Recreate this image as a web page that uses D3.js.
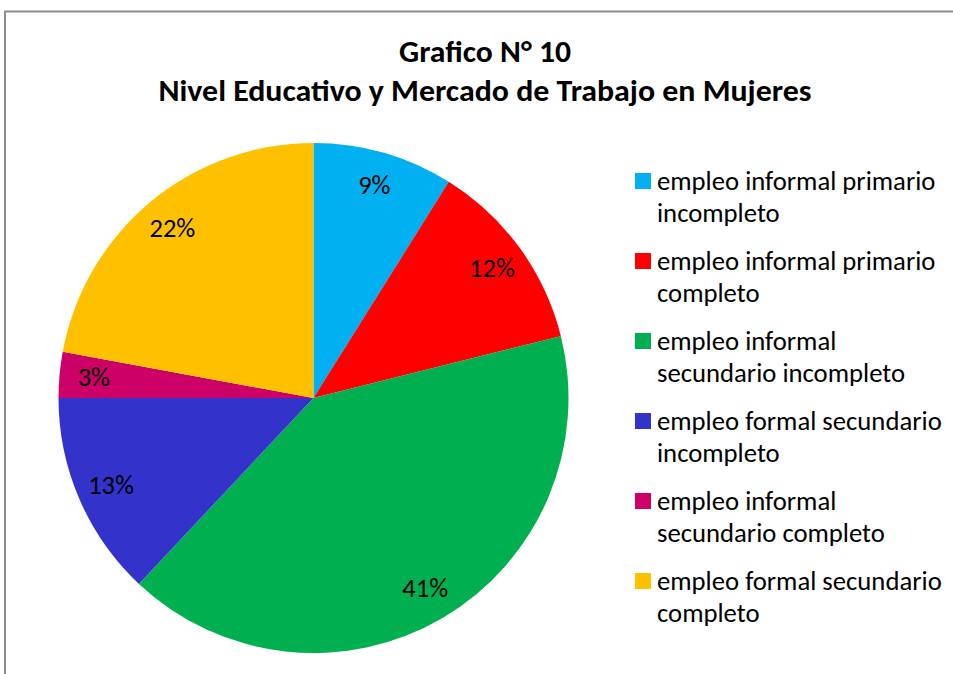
<!DOCTYPE html>
<html>
<head>
<meta charset="utf-8">
<script src="https://cdn.jsdelivr.net/npm/d3@7"></script>
<style>
  body { margin: 0; background: #fff; }
  svg text { font-family: Carlito, "Open Sans", Lato, sans-serif; }
</style>
</head>
<body>
<div id="chart"></div>
<script>
// data
var categories = [
    ['empleo informal primario', 'incompleto']
  , ['empleo informal primario', 'completo']
  , ['empleo informal', 'secundario incompleto']
  , ['empleo formal secundario', 'incompleto']
  , ['empleo informal', 'secundario completo']
  , ['empleo formal secundario', 'completo']
];
var values = [8.9, 12.2, 40.9, 13.0, 2.9, 22.1];
var labels = ['9%', '12%', '41%', '13%', '3%', '22%'];
var colors = ['#00B0F0', '#FF0000', '#00B050', '#3333CC', '#CC0066', '#FFC000'];
var titleLines = ['Grafico N° 10', 'Nivel Educativo y Mercado de Trabajo en Mujeres'];

var width = 953, height = 674;

var svg = d3.select('#chart').append('svg')
    .attr('width', width)
    .attr('height', height);

// chart frame (goes off the right and bottom edge)
svg.append('rect')
    .attr('x', 5)
    .attr('y', 11.5)
    .attr('width', 1000)
    .attr('height', 1000)
    .attr('fill', 'none')
    .attr('stroke', '#8c8c8c')
    .attr('stroke-width', 2);

// title
svg.selectAll('text.title')
    .data(titleLines)
  .enter().append('text')
    .attr('class', 'title')
    .attr('x', 485)
    .attr('y', function(d, i) { return 62 + i * 39; })
    .attr('text-anchor', 'middle')
    .attr('font-size', 31)
    .attr('font-weight', 'bold')
    .attr('fill', '#000')
    .attr('textLength', function(d, i) { return i === 0 ? 172 : 653; })
    .attr('lengthAdjust', 'spacingAndGlyphs')
    .text(function(d) { return d; });

// pie
var cx = 313.5, cy = 398, radius = 255;

var pie = d3.pie().sort(null).value(function(d) { return d; });
var arcs = pie(values);

var arc = d3.arc().innerRadius(0).outerRadius(radius);
var labelArc = d3.arc().innerRadius(radius * 0.865).outerRadius(radius * 0.865);

var g = svg.append('g')
    .attr('transform', 'translate(' + cx + ',' + cy + ')');

g.selectAll('path')
    .data(arcs)
  .enter().append('path')
    .attr('d', arc)
    .attr('fill', function(d, i) { return colors[i]; });

g.selectAll('text')
    .data(arcs)
  .enter().append('text')
    .attr('transform', function(d) { return 'translate(' + labelArc.centroid(d) + ')'; })
    .attr('dy', '0.32em')
    .attr('text-anchor', 'middle')
    .attr('font-size', 26.5)
    .attr('fill', '#000')
    .text(function(d, i) { return labels[i]; });

// legend
var legend = svg.append('g')
    .attr('transform', 'translate(635, 173)');

var item = legend.selectAll('g')
    .data(categories)
  .enter().append('g')
    .attr('transform', function(d, i) { return 'translate(0,' + i * 80 + ')'; });

item.append('rect')
    .attr('width', 16)
    .attr('height', 16)
    .attr('fill', function(d, i) { return colors[i]; });

item.append('text')
    .attr('x', 22)
    .attr('y', 17)
    .attr('font-size', 26.7)
    .attr('fill', '#000')
  .selectAll('tspan')
    .data(function(d) { return d; })
  .enter().append('tspan')
    .attr('x', 22)
    .attr('dy', function(d, i) { return i === 0 ? 0 : 32; })
    .text(function(d) { return d; });
</script>
</body>
</html>
